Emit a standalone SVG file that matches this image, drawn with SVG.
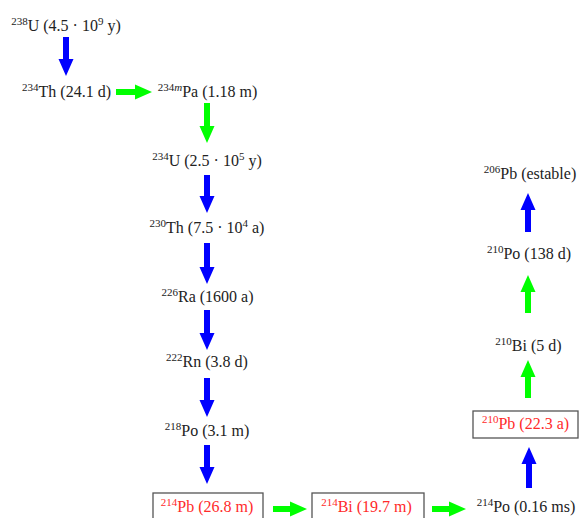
<svg xmlns="http://www.w3.org/2000/svg" width="579" height="518" viewBox="0 0 579 518" font-family="Liberation Serif, DejaVu Serif, serif">
<style>
text{font-size:16px;fill:#222;text-anchor:middle}
.sup{font-size:11px}
.red{fill:#ff2a2a}
.box{fill:#fff;stroke:#555;stroke-width:1.3}
.b{fill:#0000ff}
.g{fill:#00ff00}
</style>
<rect width="579" height="518" fill="#fff"/>
<g id="connectors">
<polygon class="b" points="63,37 69,37 69,59 73.5,59 66,76 58.5,59 63,59"/>
<polygon class="g" points="116,89 135,89 135,84.5 152,92 135,99.5 135,95 116,95"/>
<polygon class="g" points="204,103 210,103 210,126 214.5,126 207,143 199.5,126 204,126"/>
<polygon class="b" points="204,175 210,175 210,196 214.5,196 207,213 199.5,196 204,196"/>
<polygon class="b" points="204,243 210,243 210,267 214.5,267 207,284 199.5,267 204,267"/>
<polygon class="b" points="204,310 210,310 210,333 214.5,333 207,350 199.5,333 204,333"/>
<polygon class="b" points="204,378 210,378 210,400 214.5,400 207,417 199.5,400 204,400"/>
<polygon class="b" points="204,445 210,445 210,467 214.5,467 207,484 199.5,467 204,467"/>
<polygon class="g" points="273,506 290,506 290,501.5 307,509 290,516.5 290,512 273,512"/>
<polygon class="g" points="432,506 449,506 449,501.5 466,509 449,516.5 449,512 432,512"/>
<polygon class="b" points="526,488 532,488 532,464 536.5,464 529,447 521.5,464 526,464"/>
<polygon class="g" points="525,398 531,398 531,377 535.5,377 528,360 520.5,377 525,377"/>
<polygon class="g" points="525,313 531,313 531,292 535.5,292 528,275 520.5,292 525,292"/>
<polygon class="b" points="525,232 531,232 531,210 535.5,210 528,193 520.5,210 525,210"/>
</g>
<g id="U238"><text x="66" y="31" font-family="Liberation Serif"><tspan class="sup" dy="-6">238</tspan><tspan dy="6">U (4.5 · 10</tspan><tspan class="sup" dy="-6">9</tspan><tspan dy="6"> y)</tspan></text></g>
<g id="Th234"><text x="66.5" y="97"><tspan class="sup" dy="-6">234</tspan><tspan dy="6">Th (24.1 d)</tspan></text></g>
<g id="Pa234m"><text x="207.5" y="97"><tspan class="sup" dy="-6">234<tspan font-style="italic">m</tspan></tspan><tspan dy="6">Pa (1.18 m)</tspan></text></g>
<g id="U234"><text x="207" y="166"><tspan class="sup" dy="-6">234</tspan><tspan dy="6">U (2.5 · 10</tspan><tspan class="sup" dy="-6">5</tspan><tspan dy="6"> y)</tspan></text></g>
<g id="Th230"><text x="207" y="233"><tspan class="sup" dy="-6">230</tspan><tspan dy="6">Th (7.5 · 10</tspan><tspan class="sup" dy="-6">4</tspan><tspan dy="6"> a)</tspan></text></g>
<g id="Ra226"><text x="207.5" y="302"><tspan class="sup" dy="-6">226</tspan><tspan dy="6">Ra (1600 a)</tspan></text></g>
<g id="Rn222"><text x="207" y="367"><tspan class="sup" dy="-6">222</tspan><tspan dy="6">Rn (3.8 d)</tspan></text></g>
<g id="Po218"><text x="207" y="436"><tspan class="sup" dy="-6">218</tspan><tspan dy="6">Po (3.1 m)</tspan></text></g>
<g id="Pb214"><rect class="box" x="153" y="493" width="110" height="32"/><text class="red" x="207" y="512"><tspan class="sup" dy="-6">214</tspan><tspan dy="6">Pb (26.8 m)</tspan></text></g>
<g id="Bi214"><rect class="box" x="312" y="493" width="112" height="32"/><text class="red" x="366.5" y="512"><tspan class="sup" dy="-6">214</tspan><tspan dy="6">Bi (19.7 m)</tspan></text></g>
<g id="Po214"><text x="526" y="512"><tspan class="sup" dy="-6">214</tspan><tspan dy="6">Po (0.16 ms)</tspan></text></g>
<g id="Pb210"><rect class="box" x="473" y="411" width="105" height="27"/><text class="red" x="525.5" y="429"><tspan class="sup" dy="-6">210</tspan><tspan dy="6">Pb (22.3 a)</tspan></text></g>
<g id="Bi210"><text x="528.5" y="351"><tspan class="sup" dy="-6">210</tspan><tspan dy="6">Bi (5 d)</tspan></text></g>
<g id="Po210"><text x="529" y="259"><tspan class="sup" dy="-6">210</tspan><tspan dy="6">Po (138 d)</tspan></text></g>
<g id="Pb206"><text x="530" y="179"><tspan class="sup" dy="-6">206</tspan><tspan dy="6">Pb (estable)</tspan></text></g>
</svg>
